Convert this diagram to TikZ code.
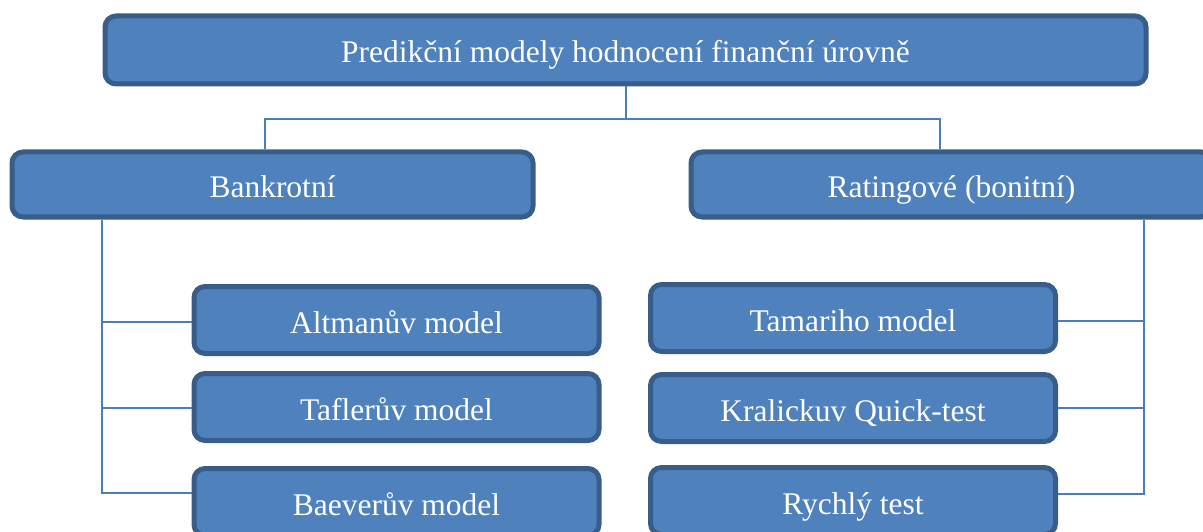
\documentclass[tikz,border=0pt]{standalone}
\usepackage{fontspec}
\setmainfont{Liberation Serif}
\definecolor{boxfill}{HTML}{4F81BD}
\definecolor{boxline}{HTML}{385D8A}
\definecolor{connline}{HTML}{4A7EBB}
\begin{document}
\begin{tikzpicture}[x=1pt,y=-1pt,
  box/.style={draw=boxline, fill=boxfill, line width=5pt, rounded corners=11pt,
    text=white, font=\fontsize{31.5}{36}\selectfont, inner sep=0pt,
    text height=26pt, text depth=0pt},
  bigbox/.style={box, minimum width=1041pt, minimum height=68pt},
  midbox/.style={box, minimum width=521pt, minimum height=65pt},
  smallbox/.style={box, minimum width=405pt, minimum height=67pt},
  conn/.style={draw=connline, line width=2pt}]
\useasboundingbox (0,0) rectangle (1203,532);
\clip (0,0) rectangle (1203,532);
\node[bigbox] (top) at (625.5,50) {Predikční modely hodnocení finanční úrovně};
\node[midbox] (bank) at (272.5,184.5) {Bankrotní};
\node[midbox] (rat) at (951.5,184.5) {Ratingové (bonitní)};
\node[smallbox] (alt) at (396.5,320) {Altmanův model};
\node[smallbox] (taf) at (396.5,407) {Taflerův model};
\node[smallbox] (bae) at (396.5,502) {Baeverův model};
\node[smallbox] (tam) at (853,318) {Tamariho model};
\node[smallbox] (kra) at (853,408) {Kralickuv Quick-test};
\node[smallbox] (ryc) at (853,501) {Rychlý test};
% top connectors
\coordinate (mid) at ([yshift=-33pt]top.south);
\draw[conn] (top.south) -- (mid);
\draw[conn] (mid) -| ([xshift=-7.5pt]bank.north);
\draw[conn] (mid) -| ([xshift=-11.5pt]rat.north);
% left tree
\coordinate (lline) at ([xshift=92.5pt]bank.south west);
\draw[conn] (lline) |- ([yshift=9pt]bae.west);
\draw[conn] ([yshift=-2pt]alt.west) -- ([yshift=-2pt]alt.west -| lline);
\draw[conn] ([yshift=-1pt]taf.west) -- ([yshift=-1pt]taf.west -| lline);
% right tree
\coordinate (rline) at ([xshift=455.5pt]rat.south west);
\draw[conn] (rline) |- ([yshift=7pt]ryc.east);
\draw[conn] ([yshift=-3pt]tam.east) -- ([yshift=-3pt]tam.east -| rline);
\draw[conn] (kra.east) -- (kra.east -| rline);
\end{tikzpicture}
\end{document}
